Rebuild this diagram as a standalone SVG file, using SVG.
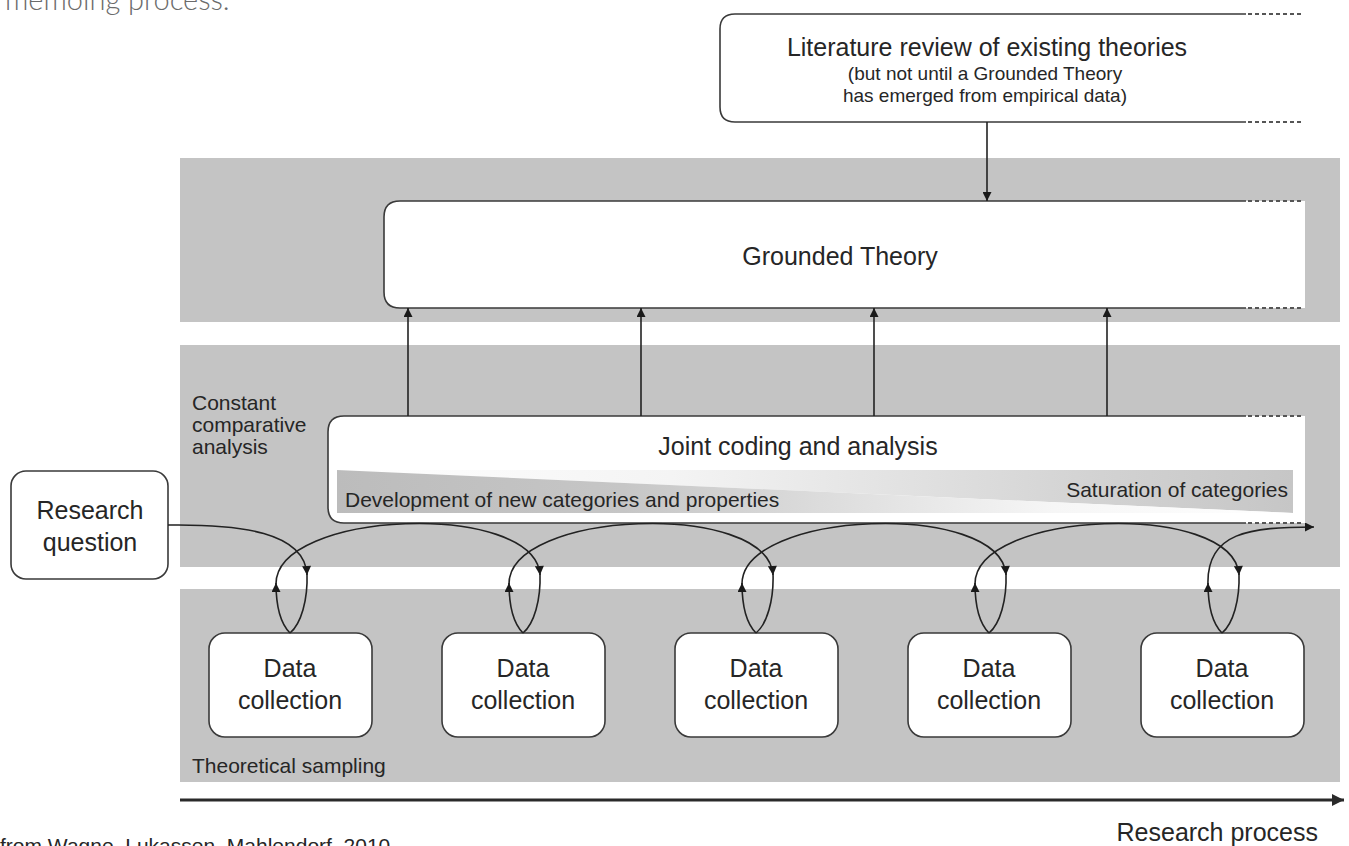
<svg xmlns="http://www.w3.org/2000/svg" width="1349" height="846" viewBox="0 0 1349 846">
  <style>
    .band { fill: #c4c4c4; }
    .box { fill: #ffffff; stroke: #3a3a3a; stroke-width: 1.6; }
    .open-fill { fill: #ffffff; stroke: none; }
    .edge { fill: none; stroke: #3a3a3a; stroke-width: 1.6; }
    .dash { fill: none; stroke: #555555; stroke-width: 2; stroke-dasharray: 4 3; }
    .conn { fill: none; stroke: #222222; stroke-width: 1.6; }
    .t { font-family: "Liberation Sans", Arial, sans-serif; fill: #262626; }
    .big { font-size: 25px; }
    .mid { font-size: 21px; }
    .sub { font-size: 19px; }
  </style>
  <defs>
    <marker id="ah" viewBox="0 0 10 10" refX="10" refY="5" markerWidth="11" markerHeight="9" markerUnits="userSpaceOnUse" orient="auto">
      <path d="M0,0 L10,5 L0,10 Z" fill="#1a1a1a"/>
    </marker>
    <marker id="ahBig" viewBox="0 0 10 10" refX="10" refY="5" markerWidth="14" markerHeight="12" markerUnits="userSpaceOnUse" orient="auto">
      <path d="M0,0 L10,5 L0,10 Z" fill="#2a2a2a"/>
    </marker>
    <linearGradient id="fadeLeft" x1="0" y1="0" x2="1" y2="0">
      <stop offset="0" stop-color="#bcbcbc"/>
      <stop offset="0.3" stop-color="#c6c6c6"/>
      <stop offset="0.75" stop-color="#f6f6f6"/>
      <stop offset="1" stop-color="#ffffff"/>
    </linearGradient>
    <linearGradient id="fadeRight" x1="0" y1="0" x2="1" y2="0">
      <stop offset="0" stop-color="#ffffff"/>
      <stop offset="0.35" stop-color="#f4f4f4"/>
      <stop offset="0.8" stop-color="#d2d2d2"/>
      <stop offset="1" stop-color="#c6c6c6"/>
    </linearGradient>
  </defs>

  <!-- caption fragments at the page edges -->
  <text x="5" y="10" font-family="Lato, 'Open Sans', sans-serif" font-weight="300" font-size="29" fill="#6b6b6b">memoing process.</text>
  <text class="t" x="0" y="853" font-size="21" fill="#333">from Wagne, Lukassen, Mahlendorf, 2010</text>

  <!-- background bands -->
  <g id="bands">
    <rect class="band" x="180" y="158" width="1160" height="164"/>
    <rect class="band" x="180" y="345" width="1160" height="222"/>
    <rect class="band" x="180" y="589" width="1160" height="193"/>
  </g>

  <!-- band labels -->
  <g id="band-labels">
    <text class="t mid" x="192" y="410">Constant</text>
    <text class="t mid" x="192" y="432">comparative</text>
    <text class="t mid" x="192" y="454">analysis</text>
    <text class="t mid" x="192" y="773">Theoretical sampling</text>
  </g>

  <!-- literature review -->
  <g id="literature">
    <path class="open-fill" d="M1300,14 H735 Q720,14 720,29 V107 Q720,122 735,122 H1300 Z"/>
    <path class="edge" d="M1246,14 H735 Q720,14 720,29 V107 Q720,122 735,122 H1246"/>
    <line class="dash" x1="1248" y1="14" x2="1301" y2="14"/>
    <line class="dash" x1="1248" y1="122" x2="1301" y2="122"/>
    <text class="t big" x="987" y="56" text-anchor="middle">Literature review of existing theories</text>
    <text class="t sub" x="985" y="80" text-anchor="middle">(but not until a Grounded Theory</text>
    <text class="t sub" x="985" y="102" text-anchor="middle">has emerged from empirical data)</text>
  </g>

  <!-- grounded theory -->
  <g id="grounded-theory">
    <path class="open-fill" d="M1305,201 H400 Q384,201 384,217 V292 Q384,308 400,308 H1305 Z"/>
    <path class="edge" d="M1246,201 H400 Q384,201 384,217 V292 Q384,308 400,308 H1246"/>
    <line class="dash" x1="1248" y1="201" x2="1304" y2="201"/>
    <line class="dash" x1="1248" y1="308" x2="1304" y2="308"/>
    <text class="t big" x="840" y="265" text-anchor="middle">Grounded Theory</text>
  </g>

  <!-- joint coding and analysis -->
  <g id="joint-coding">
    <path class="open-fill" d="M1305,416 H344 Q328,416 328,432 V507 Q328,523 344,523 H1305 Z"/>
    <path class="edge" d="M1246,416 H344 Q328,416 328,432 V507 Q328,523 344,523 H1246"/>
    <line class="dash" x1="1248" y1="416" x2="1304" y2="416"/>
    <line class="dash" x1="1248" y1="523" x2="1304" y2="523"/>
    <text class="t big" x="798" y="455" text-anchor="middle">Joint coding and analysis</text>
    <polygon points="337,470 1293,470 1293,513" fill="url(#fadeRight)"/>
    <polygon points="337,470 1293,513 337,513" fill="url(#fadeLeft)"/>
    <text class="t mid" x="345" y="507">Development of new categories and properties</text>
    <text class="t mid" x="1288" y="497" text-anchor="end">Saturation of categories</text>
  </g>

  <!-- research question -->
  <g id="research-question">
    <rect class="box" x="11" y="471" width="157" height="108" rx="15"/>
    <text class="t big" x="90" y="519" text-anchor="middle">Research</text>
    <text class="t big" x="90" y="551" text-anchor="middle">question</text>
  </g>

  <!-- data collection rounds -->
  <g id="data-collection-1">
    <rect class="box" x="209" y="633" width="163" height="104" rx="16"/>
    <text class="t big" x="290" y="677" text-anchor="middle">Data</text>
    <text class="t big" x="290" y="709" text-anchor="middle">collection</text>
  </g>
  <g id="data-collection-2">
    <rect class="box" x="442" y="633" width="163" height="104" rx="16"/>
    <text class="t big" x="523" y="677" text-anchor="middle">Data</text>
    <text class="t big" x="523" y="709" text-anchor="middle">collection</text>
  </g>
  <g id="data-collection-3">
    <rect class="box" x="675" y="633" width="163" height="104" rx="16"/>
    <text class="t big" x="756" y="677" text-anchor="middle">Data</text>
    <text class="t big" x="756" y="709" text-anchor="middle">collection</text>
  </g>
  <g id="data-collection-4">
    <rect class="box" x="908" y="633" width="163" height="104" rx="16"/>
    <text class="t big" x="989" y="677" text-anchor="middle">Data</text>
    <text class="t big" x="989" y="709" text-anchor="middle">collection</text>
  </g>
  <g id="data-collection-5">
    <rect class="box" x="1141" y="633" width="163" height="104" rx="16"/>
    <text class="t big" x="1222" y="677" text-anchor="middle">Data</text>
    <text class="t big" x="1222" y="709" text-anchor="middle">collection</text>
  </g>

  <!-- connectors -->
  <g id="connectors">
    <!-- literature feeds the theory -->
    <line class="conn" x1="987" y1="122" x2="987" y2="201" marker-end="url(#ah)"/>
    <!-- coding builds the theory -->
    <line class="conn" x1="408" y1="416" x2="408" y2="308" marker-end="url(#ah)"/>
    <line class="conn" x1="641" y1="416" x2="641" y2="308" marker-end="url(#ah)"/>
    <line class="conn" x1="874" y1="416" x2="874" y2="308" marker-end="url(#ah)"/>
    <line class="conn" x1="1107" y1="416" x2="1107" y2="308" marker-end="url(#ah)"/>

    <!-- research question into first collection -->
    <path class="conn" d="M168,525 C240,524 305,532 307,575" marker-end="url(#ah)"/>
    <path class="conn" d="M307,573 C308,600 301,624 290,633"/>

    <!-- round 1 -> 2 -->
    <path class="conn" d="M290,633 C279,622 276,604 276,583" marker-end="url(#ah)"/>
    <path class="conn" d="M276,585 C274,510 535,500 540,575" marker-end="url(#ah)"/>
    <path class="conn" d="M540,573 C541,600 534,624 523,633"/>
    <!-- round 2 -> 3 -->
    <path class="conn" d="M523,633 C512,622 509,604 509,583" marker-end="url(#ah)"/>
    <path class="conn" d="M509,585 C507,510 768,500 773,575" marker-end="url(#ah)"/>
    <path class="conn" d="M773,573 C774,600 767,624 756,633"/>
    <!-- round 3 -> 4 -->
    <path class="conn" d="M756,633 C745,622 742,604 742,583" marker-end="url(#ah)"/>
    <path class="conn" d="M742,585 C740,510 1001,500 1006,575" marker-end="url(#ah)"/>
    <path class="conn" d="M1006,573 C1007,600 1000,624 989,633"/>
    <!-- round 4 -> 5 -->
    <path class="conn" d="M989,633 C978,622 975,604 975,583" marker-end="url(#ah)"/>
    <path class="conn" d="M975,585 C973,510 1234,500 1239,575" marker-end="url(#ah)"/>
    <path class="conn" d="M1239,573 C1240,600 1233,624 1222,633"/>
    <!-- round 5 onwards -->
    <path class="conn" d="M1222,633 C1211,622 1208,604 1208,583" marker-end="url(#ah)"/>
    <path class="conn" d="M1208,585 C1206,532 1250,527 1314,527" marker-end="url(#ah)"/>

    <!-- research process axis -->
    <line x1="180" y1="800" x2="1344" y2="800" stroke="#2a2a2a" stroke-width="3" marker-end="url(#ahBig)"/>
  </g>
  <text class="t big" x="1318" y="841" text-anchor="end">Research process</text>
</svg>
